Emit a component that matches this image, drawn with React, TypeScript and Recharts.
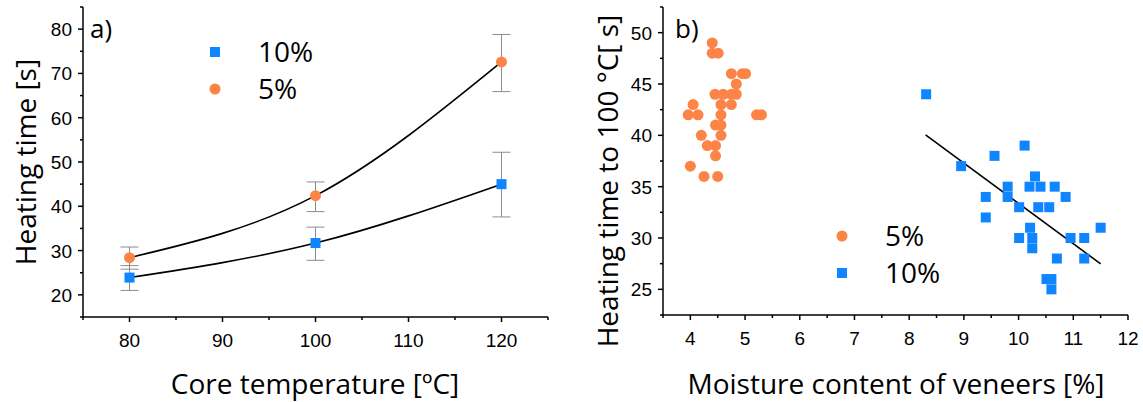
import { ComposedChart, Scatter, Line, XAxis, YAxis, ErrorBar, Legend } from "recharts";

const ORANGE = "#FC8446";
const BLUE = "#0F85FF";
const GREY = "#8C8C8C";
const TICK_FONT = "'Liberation Sans', Arial, sans-serif";
const TEXT_FONT = "'Open Sans', sans-serif";

// a) heating time vs core temperature, error bars given as [down, up]
const coreTemp = [80, 100, 120];
const heat10 = [23.9, 31.7, 45.0];
const heat10Err = [[2.9, 2.7], [3.9, 3.6], [7.4, 7.2]];
const heat5 = [28.4, 42.4, 72.6];
const heat5Err = [[2.6, 2.4], [3.6, 3.1], [6.7, 6.2]];

const tempTicks = [75, 80, 85, 90, 95, 100, 105, 110, 115, 120, 125];
const heatTicks = [15, 20, 25, 30, 35, 40, 45, 50, 55, 60, 65, 70, 75, 80, 85];

// b) heating time to 100 °C vs moisture content of veneers
const mc5 = [4.4, 4.4, 4.51, 4.75, 4.95, 5.01, 4.84, 4.45, 4.6, 4.75, 4.84, 4.05, 4.56, 4.75, 3.96, 4.14, 4.56, 5.21, 5.3, 4.46, 4.56, 4.2, 4.56, 4.31, 4.46, 4.46, 4.0, 4.25, 4.5];
const t5 = [49, 48, 48, 46, 46, 46, 45, 44, 44, 44, 44, 43, 43, 43, 42, 42, 42, 42, 42, 41, 41, 40, 40, 39, 39, 38, 37, 36, 36];
const mc10 = [8.31, 10.11, 9.56, 8.95, 10.3, 9.8, 10.2, 10.4, 10.66, 9.4, 9.8, 10.86, 10.01, 10.36, 10.56, 9.4, 10.21, 11.5, 10.01, 10.25, 10.95, 11.2, 10.25, 10.7, 11.2, 10.51, 10.6, 10.6];
const t10 = [44, 39, 38, 37, 36, 35, 35, 35, 35, 34, 34, 34, 33, 33, 33, 32, 31, 31, 30, 30, 30, 30, 29, 28, 28, 26, 26, 25];
const fitX = [8.3, 11.5];
const fitY = [40.05, 27.48];

const mcTicks = [3.5, 4, 4.5, 5, 5.5, 6, 6.5, 7, 7.5, 8, 8.5, 9, 9.5, 10, 10.5, 11, 11.5, 12];
const t100Ticks = [22.5, 25, 27.5, 30, 32.5, 35, 37.5, 40, 42.5, 45, 47.5, 50, 52.5];

const withErr = (ys: number[], errs: number[][]) =>
  coreTemp.map((x, i) => ({ x, y: ys[i], err: errs[i] }));
const pairs = (xs: number[], ys: number[]) => xs.map((x, i) => ({ x, y: ys[i] }));

const square = (size: number, color: string) => (p: any) =>
  <rect x={p.cx - size / 2} y={p.cy - size / 2} width={size} height={size} fill={color} />;
const dot = (size: number, color: string) => (p: any) =>
  <circle cx={p.cx} cy={p.cy} r={size / 2} fill={color} />;

const makeTick = (side: "x" | "y", isMajor: (v: number) => boolean) => (props: any) => {
  const { x, y, payload } = props;
  const v: number = payload.value;
  const major = isMajor(v);
  const len = major ? 5 : 3;
  if (side === "x") {
    return (
      <g>
        <line x1={x} x2={x} y1={y} y2={y + len} stroke="#000" strokeWidth={1.5} />
        {major && (
          <text x={x} y={y + 30} textAnchor="middle" fontSize={19} fontFamily={TICK_FONT} fill="#000">
            {v}
          </text>
        )}
      </g>
    );
  }
  return (
    <g>
      <line x1={x - len} x2={x} y1={y} y2={y} stroke="#000" strokeWidth={1.5} />
      {major && (
        <text x={x - 11} y={y + 7} textAnchor="end" fontSize={19} fontFamily={TICK_FONT} fill="#000">
          {v}
        </text>
      )}
    </g>
  );
};

const xTitle = (text: string, x: number) => () =>
  <text x={x} y={394} textAnchor="middle" fontSize={28} fontFamily={TEXT_FONT} fill="#000">{text}</text>;
const yTitle = (text: string, x: number, y: number) => () =>
  <text x={x} y={y} transform={`rotate(-90 ${x} ${y})`} textAnchor="middle" fontSize={28} fontFamily={TEXT_FONT} fill="#000">{text}</text>;

interface LegendItem { label: string; color: string; kind: "square" | "circle"; }

const annotations = (w: number, h: number, tag: string, tagX: number, items: LegendItem[], lx: number, ly: number[]) => () => (
  <svg width={w} height={h} style={{ overflow: "visible" }}>
    <text x={tagX} y={38} fontSize={26} fontFamily={TEXT_FONT} fill="#000">{tag}</text>
    {items.map((it, i) => (
      <g key={it.label}>
        {it.kind === "square"
          ? <rect x={lx - 5} y={ly[i] - 5} width={10} height={10} fill={it.color} />
          : <circle cx={lx} cy={ly[i]} r={5.5} fill={it.color} />}
        <text x={lx + 43} y={ly[i] + 10} fontSize={28} fontFamily={TEXT_FONT} fill="#000">{it.label}</text>
      </g>
    ))}
  </svg>
);

const legendA: LegendItem[] = [
  { label: "10%", color: BLUE, kind: "square" },
  { label: "5%", color: ORANGE, kind: "circle" },
];
const legendB: LegendItem[] = [
  { label: "5%", color: ORANGE, kind: "circle" },
  { label: "10%", color: BLUE, kind: "square" },
];

const axisLine = { stroke: "#000", strokeWidth: 1.5 };

function PanelA() {
  const pts10 = withErr(heat10, heat10Err);
  const pts5 = withErr(heat5, heat5Err);
  return (
    <ComposedChart width={560} height={402} margin={{ top: 7, right: 12, bottom: 0, left: 0 }}>
      <XAxis type="number" dataKey="x" domain={[75, 125]} ticks={tempTicks} interval={0}
        height={85} tickSize={0} tickMargin={0} tickLine={false} axisLine={axisLine}
        tick={makeTick("x", (v) => v % 10 === 0)} label={{ content: xTitle("Core temperature [ºC]", 315) }} />
      <YAxis type="number" dataKey="y" domain={[15, 85]} ticks={heatTicks} interval={0}
        width={83} tickSize={0} tickMargin={0} tickLine={false} axisLine={axisLine}
        tick={makeTick("y", (v) => v % 10 === 0)} label={{ content: yTitle("Heating time [s]", 36, 162) }} />
      <Scatter data={pts10} shape={square(10, BLUE)} isAnimationActive={false}>
        <ErrorBar dataKey="err" direction="y" width={9} stroke={GREY} strokeWidth={1} />
      </Scatter>
      <Scatter data={pts5} shape={dot(11, ORANGE)} isAnimationActive={false}>
        <ErrorBar dataKey="err" direction="y" width={9} stroke={GREY} strokeWidth={1} />
      </Scatter>
      <Line data={pts10} dataKey="y" type="natural" stroke="#000" strokeWidth={1.6} dot={false} isAnimationActive={false} />
      <Line data={pts5} dataKey="y" type="natural" stroke="#000" strokeWidth={1.6} dot={false} isAnimationActive={false} />
      <Legend layout="vertical" align="center" verticalAlign="middle"
        wrapperStyle={{ left: 0, top: 0, width: 560, height: 402, pointerEvents: "none" }}
        content={annotations(560, 402, "a)", 90, legendA, 215, [52, 89])} />
    </ComposedChart>
  );
}

function PanelB() {
  return (
    <ComposedChart width={563} height={402} margin={{ top: 7, right: 15, bottom: 0, left: 0 }}>
      <XAxis type="number" dataKey="x" domain={[3.5, 12]} ticks={mcTicks} interval={0}
        height={87} tickSize={0} tickMargin={0} tickLine={false} axisLine={axisLine}
        tick={makeTick("x", (v) => Number.isInteger(v))} label={{ content: xTitle("Moisture content of veneers [%]", 316) }} />
      <YAxis type="number" dataKey="y" domain={[22.5, 52.5]} ticks={t100Ticks} interval={0}
        width={83} tickSize={0} tickMargin={0} tickLine={false} axisLine={axisLine}
        tick={makeTick("y", (v) => v % 5 === 0)} label={{ content: yTitle("Heating time to 100 °C[ s]", 38, 181) }} />
      <Scatter data={pairs(mc5, t5)} shape={dot(11, ORANGE)} isAnimationActive={false} />
      <Scatter data={pairs(mc10, t10)} shape={square(10, BLUE)} isAnimationActive={false} />
      <Line data={pairs(fitX, fitY)} dataKey="y" type="linear" stroke="#000" strokeWidth={1.6} dot={false} isAnimationActive={false} />
      <Legend layout="vertical" align="center" verticalAlign="middle"
        wrapperStyle={{ left: 0, top: 0, width: 563, height: 402, pointerEvents: "none" }}
        content={annotations(563, 402, "b)", 95, legendB, 262, [236, 273])} />
    </ComposedChart>
  );
}

export default function App() {
  return (
    <div style={{ position: "absolute", left: 0, top: 0, width: 1143, height: 402, background: "#fff" }}>
      <div style={{ position: "absolute", left: 0, top: 0 }}>
        <PanelA />
      </div>
      <div style={{ position: "absolute", left: 580, top: 0 }}>
        <PanelB />
      </div>
    </div>
  );
}
